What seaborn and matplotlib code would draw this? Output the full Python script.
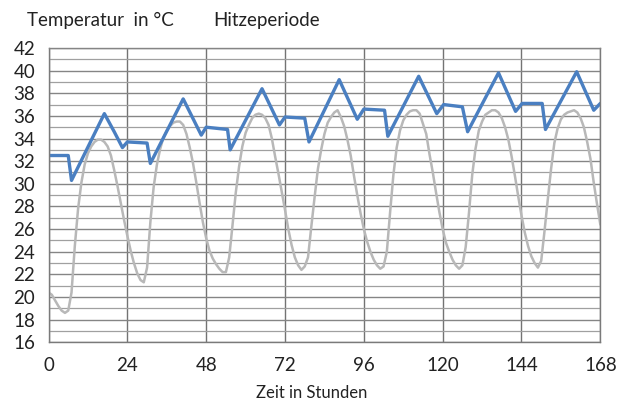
import numpy as np
import pandas as pd
import matplotlib
matplotlib.use("Agg")
import matplotlib.pyplot as plt
import seaborn as sns

# outdoor temperature (grey), hourly read-off
hours = list(range(0, 169))
aussen = [
    20.4, 20.2, 19.7, 19.2, 18.8, 18.6, 18.8, 20.4, 24.5, 27.8, 30.1, 31.7,
    32.7, 33.3, 33.7, 33.9, 33.9, 33.7, 33.3, 32.5, 31.2, 29.8, 28.3, 26.8,
    25.4, 24.1, 23.0, 22.1, 21.5, 21.3, 22.6, 26.6, 29.7, 31.7, 33.1, 34.1,
    34.7, 35.1, 35.4, 35.5, 35.5, 35.2, 34.4, 33.2, 31.8, 30.1, 28.3, 26.6,
    25.2, 24.1, 23.4, 22.9, 22.5, 22.2, 22.2, 23.5, 26.3, 29.2, 31.5, 33.3,
    34.5, 35.2, 35.8, 36.1, 36.2, 36.1, 35.8, 35.2, 34.0, 32.4, 30.9, 29.3,
    27.7, 26.0, 24.6, 23.5, 22.8, 22.4, 22.7, 23.5, 26.2, 28.8, 31.3, 33.0,
    34.4, 35.4, 35.9, 36.3, 36.5, 35.9, 35.1, 33.9, 32.5, 30.7, 29.0, 27.4,
    26.0, 24.9, 24.0, 23.3, 22.8, 22.5, 22.7, 24.0, 27.5, 30.8, 33.2, 34.7,
    35.6, 36.1, 36.4, 36.5, 36.5, 36.2, 35.3, 34.4, 32.6, 31.0, 29.2, 27.5,
    26.0, 24.8, 24.0, 23.3, 22.8, 22.5, 22.8, 24.4, 27.4, 30.8, 33.1, 34.7,
    35.5, 36.1, 36.3, 36.5, 36.5, 36.3, 35.8, 35.0, 33.9, 32.4, 30.7, 28.9,
    27.2, 25.7, 24.5, 23.6, 23.0, 22.6, 23.2, 25.8, 28.6, 31.3, 33.6, 34.9,
    35.7, 36.1, 36.3, 36.4, 36.5, 36.3, 35.8, 35.0, 33.7, 32.2, 30.1, 28.2,
    26.4,
]

# indoor temperature (blue), breakpoints
innen_h = [0, 6, 7, 17, 20, 22.5, 24, 30, 31, 41, 46.5, 48, 54.5, 55.3,
           65, 70.3, 72, 78, 79.3, 88.5, 94, 96, 102.3, 103.3, 112.7, 118.2,
           120.3, 126, 127.6, 137, 142.2, 144.2, 150.3, 151.3, 160.8, 166, 168]
innen = [32.5, 32.5, 30.3, 36.2, 34.6, 33.2, 33.7, 33.6, 31.8, 37.5, 34.3,
         35.0, 34.8, 33.0, 38.4, 35.2, 35.9, 35.8, 33.7, 39.2, 35.7, 36.6,
         36.5, 34.2, 39.5, 36.2, 37.0, 36.8, 34.6, 39.8, 36.4, 37.1, 37.1,
         34.8, 39.9, 36.5, 37.1]

x_ticks = list(range(0, 169, 24))
y_ticks = list(range(16, 43, 2))

sns.set_theme(style="white")
plt.rcParams["font.family"] = ["Lato", "DejaVu Sans"]

fig = plt.figure(figsize=(6.23, 4.03), dpi=100)
ax = fig.add_axes([0.0779, 0.1506, 0.8857, 0.7304])

df_a = pd.DataFrame({"Stunde": hours, "Temp": aussen})
df_i = pd.DataFrame({"Stunde": innen_h, "Temp": innen})

# grid
ax.set_yticks(range(16, 43, 1), minor=True)
ax.grid(which="minor", axis="y", color="#a0a0a0", lw=0.9)
ax.grid(which="major", axis="y", color="#858585", lw=1.0)
ax.grid(which="major", axis="x", color="#737373", lw=1.0)
ax.set_axisbelow(True)

sns.lineplot(data=df_a, x="Stunde", y="Temp", ax=ax, color="#b8b8b8", lw=1.8)
sns.lineplot(data=df_i, x="Stunde", y="Temp", ax=ax, color="#4a7fc1", lw=2.4)

ax.set_xlim(0, 168)
ax.set_ylim(16, 42)
ax.set_xticks(x_ticks)
ax.set_yticks(y_ticks)
ax.tick_params(axis="both", which="major", labelsize=13.5, colors="#7a7a7a",
               labelcolor="#222222", length=4.5, width=1, direction="out")
ax.tick_params(axis="x", pad=6)
ax.tick_params(axis="y", pad=5)
ax.tick_params(which="minor", length=0)
for s in ax.spines.values():
    s.set_color("#7a7a7a")
    s.set_linewidth(1.0)
ax.spines["top"].set_color("#858585")

ax.set_xlabel("")
ax.set_ylabel("")
fig.text(0.5, 0.025, "Zeit in Stunden", fontsize=12, color="#222222",
         ha="center", va="center")

fig.text(0.043, 0.95, "Temperatur  in °C", fontsize=13.5, color="#222222", va="center")
fig.text(0.342, 0.95, "Hitzeperiode", fontsize=13.5, color="#222222", va="center")

fig.savefig("out.png", dpi=100, facecolor="white")
